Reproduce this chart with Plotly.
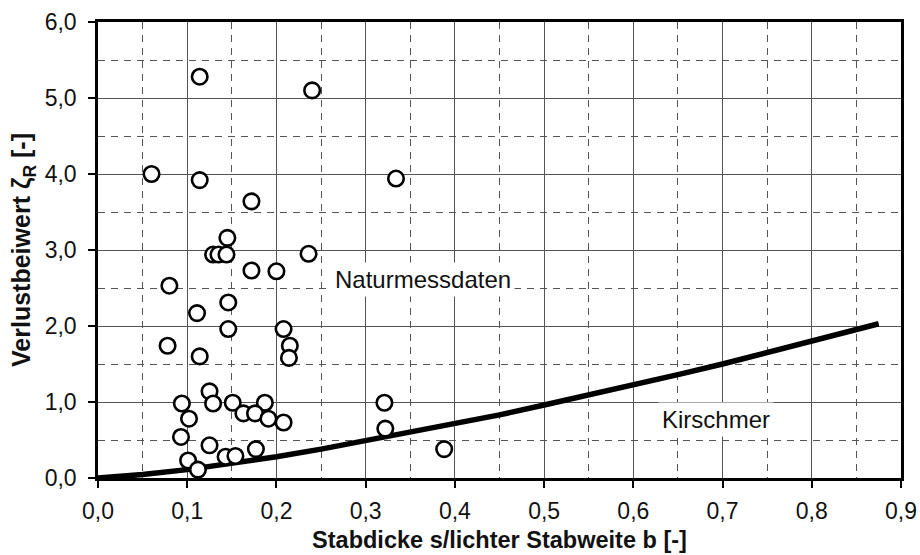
import plotly.graph_objects as go

# Naturmessdaten (measured field data)
nat_x = [0.114, 0.240, 0.060, 0.114, 0.334, 0.172, 0.145, 0.129, 0.135, 0.144,
         0.236, 0.172, 0.200, 0.080, 0.146, 0.111, 0.146, 0.208, 0.078, 0.215,
         0.214, 0.114, 0.125, 0.094, 0.129, 0.151, 0.187, 0.102, 0.163, 0.176,
         0.191, 0.208, 0.093, 0.125, 0.177, 0.143, 0.154, 0.101, 0.112,
         0.321, 0.322, 0.388]
nat_y = [5.28, 5.10, 4.00, 3.92, 3.94, 3.64, 3.16, 2.94, 2.94, 2.94,
         2.95, 2.73, 2.72, 2.53, 2.31, 2.17, 1.96, 1.96, 1.74, 1.74,
         1.58, 1.60, 1.14, 0.98, 0.98, 0.99, 0.99, 0.78, 0.85, 0.85,
         0.78, 0.73, 0.54, 0.43, 0.38, 0.28, 0.29, 0.23, 0.11,
         0.99, 0.65, 0.38]

# Kirschmer curve
kir_x = [0.0, 0.05, 0.10, 0.15, 0.20, 0.25, 0.30, 0.35, 0.40, 0.45, 0.50,
         0.55, 0.60, 0.65, 0.70, 0.75, 0.80, 0.85, 0.875]
kir_y = [0.0, 0.045, 0.11, 0.19, 0.28, 0.38, 0.49, 0.60, 0.71, 0.83, 0.96,
         1.09, 1.22, 1.36, 1.50, 1.65, 1.80, 1.95, 2.03]

x_title = "Stabdicke s/lichter Stabweite b [-]"
y_title = "Verlustbeiwert ζ<sub>R</sub> [-]"
label_nat = "Naturmessdaten"
label_kir = "Kirschmer"

FONT = "Liberation Sans, Arial, Helvetica, sans-serif"

fig = go.Figure()
fig.add_trace(go.Scatter(x=kir_x, y=kir_y, mode="lines",
                         line=dict(color="black", width=5.5),
                         showlegend=False, hoverinfo="skip"))
fig.add_trace(go.Scatter(x=nat_x, y=nat_y, mode="markers",
                         marker=dict(symbol="circle", size=15.5, color="white",
                                     line=dict(color="black", width=2.6)),
                         showlegend=False))

fig.add_annotation(x=0.364, y=2.61, text=label_nat, showarrow=False,
                   font=dict(family=FONT, size=24, color="#111"),
                   bgcolor="white", borderpad=3)
fig.add_annotation(x=0.693, y=0.77, text=label_kir, showarrow=False,
                   font=dict(family=FONT, size=24, color="#111"),
                   bgcolor="white", borderpad=3)

axis_common = dict(
    showline=True, linecolor="black", linewidth=2.5, mirror=True,
    showgrid=True, gridcolor="#555", gridwidth=1,
    ticks="outside", ticklen=7, tickcolor="black", tickwidth=1.5,
    tickfont=dict(family=FONT, size=23, color="#111"),
    zeroline=False, automargin=False,
)

fig.update_xaxes(range=[0, 0.9], dtick=0.1, tick0=0, tickformat=".1f",
                 minor=dict(dtick=0.05, showgrid=True, griddash="7px,6px",
                            gridcolor="#555", gridwidth=1),
                 title=dict(text="<b>" + x_title + "</b>", standoff=9,
                            font=dict(family=FONT, size=23.5, color="#111")),
                 ticklabelstandoff=4,
                 **axis_common)
fig.update_yaxes(range=[0, 6], dtick=1, tick0=0, tickformat=".1f",
                 minor=dict(dtick=0.5, showgrid=True, griddash="7px,6px",
                            gridcolor="#555", gridwidth=1),
                 title=dict(text="<b>" + y_title + "</b>", standoff=7,
                            font=dict(family=FONT, size=25, color="#111")),
                 ticklabelstandoff=7,
                 **axis_common)

fig.update_layout(
    width=920, height=555,
    margin=dict(l=98, r=19, t=22, b=77),
    paper_bgcolor="white", plot_bgcolor="white",
    separators=",.",
    font=dict(family=FONT),
)

fig.write_html("out.html", config={"displayModeBar": False},
               post_script="document.body.style.margin='0';")
